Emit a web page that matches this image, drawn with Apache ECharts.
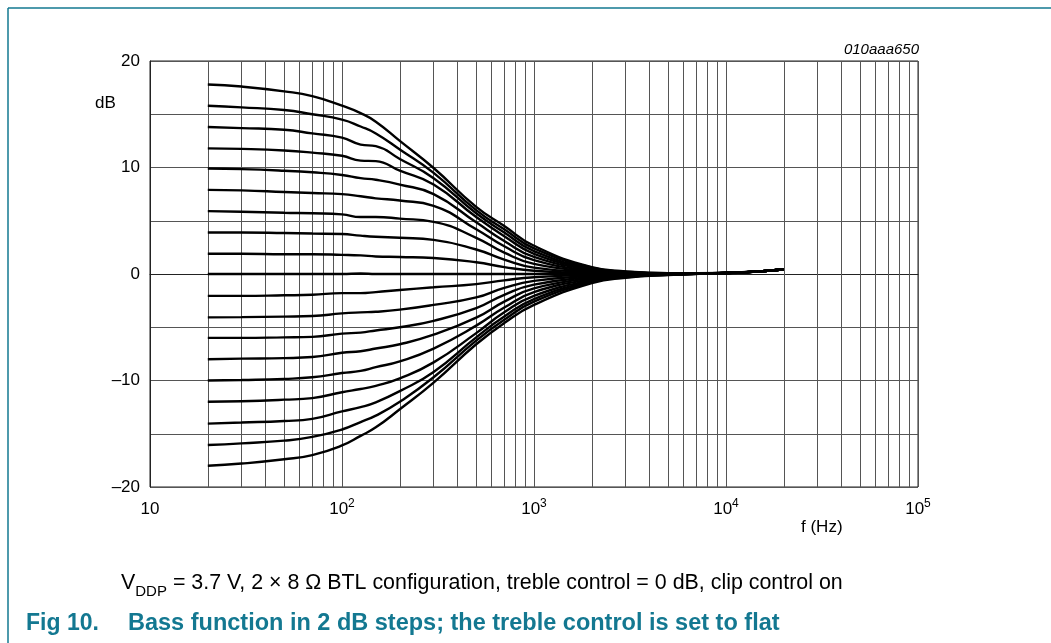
<!DOCTYPE html>
<html>
<head>
<meta charset="utf-8">
<script src="https://cdn.jsdelivr.net/npm/echarts@6/dist/echarts.min.js"></script>
<style>html,body{margin:0;padding:0;background:#fff}#c{width:1051px;height:643px}</style>
</head>
<body>
<div id="c"></div>
<script>
// Frequencies (Hz) at which curves are sampled
const freqs = [20, 30, 50, 70, 100, 125, 150, 200, 300, 500, 700, 1000, 2000, 3000, 5000, 10000, 15000, 20000];
// Bass setting curves (dB), top (+18) to bottom (-18)
const bassP18 = [17.8, 17.6, 17.15, 16.7, 15.8, 15.1, 14.3, 12.5, 9.95, 6.3, 4.5, 2.65, 0.65, 0.25, 0.08, 0.1, 0.25, 0.45];
const bassP16 = [15.8, 15.65, 15.4, 15.0, 14.5, 13.85, 13.2, 11.7, 9.5, 6.0, 4.2, 2.4, 0.6, 0.22, 0.07, 0.1, 0.25, 0.45];
const bassP14 = [13.8, 13.7, 13.55, 13.2, 12.8, 12.15, 12.0, 10.8, 9.0, 5.7, 3.9, 2.15, 0.53, 0.2, 0.06, 0.1, 0.25, 0.45];
const bassP12 = [11.8, 11.75, 11.6, 11.4, 11.1, 10.65, 10.6, 9.7, 8.4, 5.35, 3.55, 1.9, 0.47, 0.17, 0.05, 0.1, 0.25, 0.45];
const bassP10 = [9.9, 9.85, 9.7, 9.55, 9.3, 9.0, 8.85, 8.4, 7.5, 4.85, 3.1, 1.6, 0.4, 0.15, 0.04, 0.1, 0.25, 0.45];
const bassP8  = [7.9, 7.85, 7.7, 7.6, 7.5, 7.3, 7.1, 6.9, 6.4, 4.2, 2.6, 1.3, 0.32, 0.12, 0.03, 0.1, 0.25, 0.45];
const bassP6  = [5.9, 5.85, 5.75, 5.7, 5.6, 5.35, 5.35, 5.2, 4.9, 3.4, 2.0, 0.95, 0.24, 0.09, 0.02, 0.1, 0.25, 0.45];
const bassP4  = [3.9, 3.9, 3.85, 3.8, 3.75, 3.6, 3.5, 3.4, 3.2, 2.3, 1.35, 0.6, 0.16, 0.06, 0.01, 0.1, 0.25, 0.45];
const bassP2  = [1.9, 1.9, 1.85, 1.85, 1.8, 1.75, 1.65, 1.6, 1.5, 1.1, 0.65, 0.3, 0.08, 0.03, 0.0, 0.1, 0.25, 0.45];
const bass0   = [0, 0, 0, 0, 0, 0.05, 0, 0, 0, 0, 0, 0, 0, 0, 0, 0.1, 0.25, 0.45];
const bassM2  = [-2.05, -2.05, -2.0, -1.95, -1.8, -1.8, -1.7, -1.5, -1.25, -0.95, -0.6, -0.3, -0.08, -0.03, -0.01, 0.1, 0.25, 0.45];
const bassM4  = [-4.07, -4.05, -4.0, -3.95, -3.7, -3.6, -3.55, -3.35, -2.9, -2.2, -1.3, -0.65, -0.18, -0.07, -0.02, 0.1, 0.25, 0.45];
const bassM6  = [-6.0, -6.0, -5.95, -5.9, -5.6, -5.5, -5.3, -5.0, -4.4, -3.2, -1.95, -1.0, -0.28, -0.1, -0.03, 0.1, 0.25, 0.45];
const bassM8  = [-8.0, -7.95, -7.9, -7.8, -7.4, -7.25, -7.0, -6.6, -5.7, -4.1, -2.6, -1.35, -0.38, -0.14, -0.04, 0.1, 0.25, 0.45];
const bassM10 = [-10.0, -9.95, -9.85, -9.7, -9.3, -9.1, -8.75, -8.2, -7.0, -4.85, -3.15, -1.7, -0.48, -0.18, -0.05, 0.1, 0.25, 0.45];
const bassM12 = [-12.0, -11.95, -11.8, -11.65, -11.1, -10.8, -10.5, -9.8, -8.3, -5.55, -3.6, -2.05, -0.58, -0.22, -0.06, 0.1, 0.25, 0.45];
const bassM14 = [-14.05, -13.95, -13.8, -13.6, -12.9, -12.5, -12.05, -11.0, -9.2, -5.95, -4.0, -2.35, -0.67, -0.26, -0.07, 0.1, 0.25, 0.45];
const bassM16 = [-16.06, -15.9, -15.65, -15.3, -14.6, -13.9, -13.3, -12.0, -9.7, -6.25, -4.3, -2.6, -0.76, -0.3, -0.08, 0.1, 0.25, 0.45];
const bassM18 = [-18.0, -17.8, -17.4, -17.0, -16.1, -15.2, -14.4, -12.7, -10.2, -6.6, -4.6, -2.9, -0.85, -0.35, -0.09, 0.1, 0.25, 0.45];

const curves = [bassP18, bassP16, bassP14, bassP12, bassP10, bassP8, bassP6, bassP4, bassP2, bass0,
                bassM2, bassM4, bassM6, bassM8, bassM10, bassM12, bassM14, bassM16, bassM18];

// Axis ticks
const yTickLabels = [20, 10, 0, -10, -20];
const decades = [10, 100, 1000, 10000];
const minorMultipliers = [2, 3, 4, 5, 6, 7, 8, 9];
const minorGrid = [];
decades.forEach(d => minorMultipliers.forEach(m => minorGrid.push(d * m)));

const teal = '#137891';
const chart = echarts.init(document.getElementById('c'), null, {renderer: 'canvas'});

const series = curves.map(c => ({
  type: 'line',
  data: freqs.map((f, i) => [f, c[i]]),
  showSymbol: false,
  smooth: 0.5,
  lineStyle: {color: '#000', width: 2.4},
  z: 5,
  silent: true,
  animation: false
}));

series.push({
  type: 'line',
  data: [],
  z: 1,
  silent: true,
  animation: false,
  markLine: {
    silent: true,
    symbol: ['none', 'none'],
    label: {show: false},
    animation: false,
    lineStyle: {color: '#555', width: 1, type: 'solid'},
    data: minorGrid.map(v => ({xAxis: v}))
  }
});

const font = 'Liberation Sans, Arial, sans-serif';

chart.setOption({
  animation: false,
  grid: {left: 150, top: 61, width: 768, height: 426, show: true, borderColor: '#222', borderWidth: 1, containLabel: false},
  xAxis: {
    type: 'log', logBase: 10, min: 10, max: 100000,
    axisLine: {show: true, lineStyle: {color: '#222', width: 1}},
    axisTick: {show: false},
    splitLine: {show: true, lineStyle: {color: '#555', width: 1}},
    axisLabel: {
      margin: 11,
      color: '#000',
      fontFamily: font,
      formatter: v => {
        const e = Math.round(Math.log10(v));
        return e === 1 ? '{b|10}' : '{b|10}{s|' + e + '}';
      },
      rich: {
        b: {fontSize: 17, fontFamily: font, color: '#000', verticalAlign: 'bottom', lineHeight: 20},
        s: {fontSize: 12, fontFamily: font, color: '#000', verticalAlign: 'bottom', lineHeight: 20, padding: [0, 0, 8, 0]}
      }
    }
  },
  yAxis: {
    type: 'value', min: -20, max: 20, interval: 5,
    axisLine: {show: true, lineStyle: {color: '#222', width: 1}},
    axisTick: {show: false},
    splitLine: {show: true, lineStyle: {color: '#555', width: 1}},
    axisLabel: {
      margin: 10,
      color: '#000',
      fontSize: 17,
      fontFamily: font,
      formatter: v => yTickLabels.indexOf(v) >= 0 ? (v < 0 ? '\u2013' + Math.abs(v) : String(v)) : ''
    }
  },
  graphic: [
    {type: 'line', shape: {x1: 8, y1: 8, x2: 1051, y2: 8}, style: {stroke: teal, lineWidth: 1.5}},
    {type: 'line', shape: {x1: 8, y1: 8, x2: 8, y2: 643}, style: {stroke: teal, lineWidth: 1.5}},
    {type: 'text', left: 95, top: 95, style: {text: 'dB', fontSize: 17, fontFamily: font, fill: '#000'}},
    {type: 'text', right: 132, top: 42, style: {text: '010aaa650', fontSize: 15, fontStyle: 'italic', fontFamily: font, fill: '#000'}},
    {type: 'text', left: 801, top: 519, style: {text: 'f (Hz)', fontSize: 17, fontFamily: font, fill: '#000'}},
    {type: 'text', left: 121, top: 573, style: {
      text: '{n|V}{sub|DDP}{n| = 3.7 V, 2 \u00d7 8 \u03a9 BTL configuration, treble control = 0 dB, clip control on}',
      rich: {
        n: {fontSize: 21.4, fontFamily: font, fill: '#000', verticalAlign: 'bottom', lineHeight: 25},
        sub: {fontSize: 15, fontFamily: font, fill: '#000', verticalAlign: 'bottom', lineHeight: 25, padding: [0, 0, -5, 0]}
      }
    }},
    {type: 'text', left: 26, top: 612, style: {
      text: 'Fig 10.', fontSize: 23, fontWeight: 'bold', fontFamily: font, fill: teal
    }},
    {type: 'text', left: 128, top: 612, style: {
      text: 'Bass function in 2 dB steps; the treble control is set to flat',
      fontSize: 23.5, fontWeight: 'bold', fontFamily: font, fill: teal
    }}
  ],
  series: series
});
</script>
</body>
</html>
